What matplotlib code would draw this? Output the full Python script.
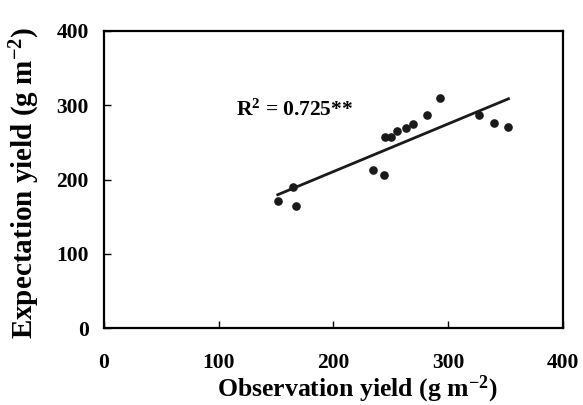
import numpy as np
import matplotlib
matplotlib.use('Agg')
import matplotlib.pyplot as plt

plt.rcParams['font.family'] = ['Liberation Serif', 'DejaVu Serif']
plt.rcParams['font.weight'] = 'bold'
plt.rcParams['mathtext.fontset'] = 'custom'
plt.rcParams['mathtext.rm'] = 'Liberation Serif:bold'
plt.rcParams['mathtext.it'] = 'Liberation Serif:bold'
plt.rcParams['mathtext.bf'] = 'Liberation Serif:bold'
plt.rcParams['mathtext.default'] = 'rm'

# observation vs expectation yield (g m-2)
observed = [151.5, 165.1, 167.2, 234.1, 244.2, 245.0, 250.0, 255.2, 263.3,
            269.7, 281.9, 293.0, 326.7, 340.4, 352.6]
expected = [171.0, 189.5, 164.7, 212.2, 206.5, 257.3, 257.3, 265.0, 269.0,
            274.8, 287.3, 310.2, 287.3, 276.5, 271.2]
r2_label = 'R$^2$ = 0.725**'

x = np.array(observed)
y = np.array(expected)

fig = plt.figure(figsize=(5.83, 4.05), dpi=100)
ax = fig.add_axes([0.1784, 0.190, 0.787, 0.7335])

ax.scatter(x, y, s=27, color='#1a1a1a', zorder=3)

# linear trend line over the data range
z = np.polyfit(x, y, 1)
p = np.poly1d(z)
xs = np.array([x.min(), x.max()])
ax.plot(xs, p(xs), color='#1a1a1a', linewidth=2)

ax.text(0.288, 0.735, r2_label, transform=ax.transAxes, fontsize=15.5,
        fontweight='bold', ha='left', va='center')

ax.set_xlim(0, 400)
ax.set_ylim(0, 400)
ax.set_xticks([0, 100, 200, 300, 400])
ax.set_yticks([0, 100, 200, 300, 400])
ax.tick_params(direction='in', length=5, width=1, labelsize=15.5)
ax.tick_params(axis='x', pad=18)
ax.tick_params(axis='y', pad=11)
for s in ax.spines.values():
    s.set_linewidth(1.6)

ax.set_xlabel('Observation yield (g m$^{-2}$)', fontsize=18.5, fontweight='bold')
ax.xaxis.set_label_coords(0.551, -0.155)
ax.set_ylabel('Expectation yield (g m$^{-2}$)', fontsize=21, fontweight='bold')
ax.yaxis.set_label_coords(-0.135, 0.49)

plt.savefig('out.png', dpi=100)
